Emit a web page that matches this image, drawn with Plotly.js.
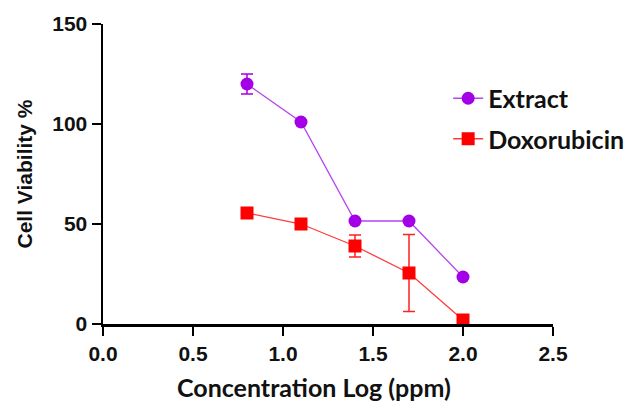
<!DOCTYPE html>
<html>
<head>
<meta charset="utf-8">
<script src="https://cdn.plot.ly/plotly-3.0.1.min.js"></script>
<style>html,body{margin:0;padding:0;background:#fff}#chart{width:634px;height:404px}</style>
</head>
<body>
<div id="chart"></div>
<script>
const concLog = [0.8, 1.1, 1.4, 1.7, 2.0];
const extractValues = [120, 101, 51.5, 51.5, 23.5];
const extractErrors = [5, 0, 0, 0, 0];
const doxValues = [55.5, 50, 39, 25.5, 2];
const doxErrors = [0, 0, 5.5, 19.3, 0];
const seriesNames = ['Extract', 'Doxorubicin'];
const xTicks = [0.0, 0.5, 1.0, 1.5, 2.0, 2.5];
const xTickLabels = ['0.0', '0.5', '1.0', '1.5', '2.0', '2.5'];
const yTicks = [0, 50, 100, 150];
const xTitle = 'Concentration Log (ppm)';
const yTitle = 'Cell Viability %';

const arial = '"Liberation Sans", Arial, sans-serif';
const calFont = 'Lato, "Open Sans", sans-serif';

const traces = [
  {
    x: concLog, y: extractValues, name: seriesNames[0], type: 'scatter', mode: 'lines+markers',
    legendgroup: 'a',
    line: {color: '#B544F2', width: 1.3},
    marker: {symbol: 'circle', size: 13, color: '#A300E8'},
    error_y: {type: 'data', array: extractErrors, visible: true, color: '#A300E8', thickness: 1.5, width: 6}
  },
  {
    x: concLog, y: doxValues, name: seriesNames[1], type: 'scatter', mode: 'lines+markers',
    legendgroup: 'b',
    line: {color: '#FF3B3B', width: 1.3},
    marker: {symbol: 'square', size: 13, color: '#FF0000'},
    error_y: {type: 'data', array: doxErrors, visible: true, color: '#FF2020', thickness: 1.5, width: 6}
  }
];

const layout = {
  width: 634, height: 404,
  margin: {l: 102.7, r: 81.3, t: 24, b: 80, autoexpand: false},
  paper_bgcolor: '#fff', plot_bgcolor: '#fff',
  showlegend: true,
  legend: {
    x: 0.767, y: 0.685, xanchor: 'left', yanchor: 'middle',
    font: {family: calFont, size: 25, color: '#111', weight: 700},
    tracegroupgap: 5, traceorder: 'grouped',
    bgcolor: 'rgba(0,0,0,0)'
  },
  annotations: [{
    text: xTitle, xref: 'paper', yref: 'paper', x: 0.4696, y: -0.21,
    xanchor: 'center', yanchor: 'middle', showarrow: false,
    font: {family: calFont, size: 25, color: '#111', weight: 700}
  }],
  xaxis: {
    range: [0, 2.5], tickvals: xTicks, ticktext: xTickLabels,
    showline: true, linecolor: '#000', linewidth: 2.5,
    ticks: 'outside', ticklen: 9, tickwidth: 2.5, tickcolor: '#000',
    showgrid: false, zeroline: false,
    tickfont: {family: arial, size: 21, color: '#111', weight: 700}
  },
  yaxis: {
    range: [0, 150], tickvals: yTicks,
    showline: true, linecolor: '#000', linewidth: 2.5,
    ticks: 'outside', ticklen: 9, tickwidth: 2.5, tickcolor: '#000',
    showgrid: false, zeroline: false,
    tickfont: {family: arial, size: 21, color: '#111', weight: 700},
    title: {text: yTitle, font: {family: arial, size: 21, color: '#111', weight: 700}, standoff: 14}
  }
};

Plotly.newPlot('chart', traces, layout, {displayModeBar: false, staticPlot: true});
</script>
</body>
</html>
